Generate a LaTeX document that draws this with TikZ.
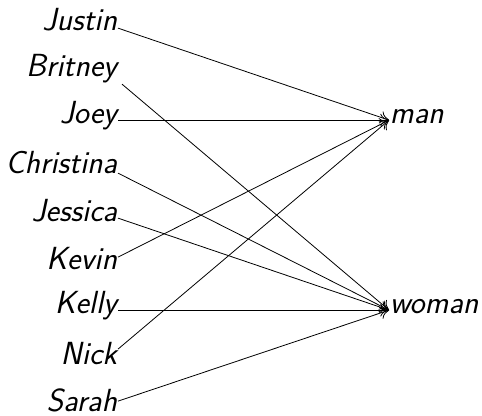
\documentclass[tikz,border=0pt]{standalone}
\usepackage{fontspec}
\usetikzlibrary{arrows.meta}
\tikzset{
  person/.style={anchor=base east, inner sep=0.5pt, font=\fontsize{24pt}{29pt}\selectfont\sffamily\itshape},
  target/.style={anchor=base west, inner sep=0.5pt, font=\fontsize{24pt}{29pt}\selectfont\sffamily\itshape},
  link/.style={line width=0.6pt, -{To[length=6.5pt,width=9.5pt]}}
}
\begin{document}
\begin{tikzpicture}[x=0.75pt, y=-0.75pt]
\useasboundingbox (0,0) rectangle (482,415);
\node[person] (justin) at (118,30) {Justin};
\node[person] (britney) at (118,76) {Britney};
\node[person] (joey) at (118,123) {Joey};
\node[person] (christina) at (118,173) {Christina};
\node[person] (jessica) at (118,221) {Jessica};
\node[person] (kevin) at (118,269) {Kevin};
\node[person] (kelly) at (118,313) {Kelly};
\node[person] (nick) at (118,364) {Nick};
\node[person] (sarah) at (118,411) {Sarah};
\node[target] (man) at (389,123) {man};
\node[target] (woman) at (389,313) {woman};
\draw[link] ([shift={(0,1)}]justin.mid east) -- (man.mid west);
\draw[link] ([shift={(4,11)}]britney.mid east) -- (woman.mid west);
\draw[link] (joey.mid east) -- (man.mid west);
\draw[link] ([shift={(0,3)}]christina.mid east) -- (woman.mid west);
\draw[link] (jessica.mid east) -- (woman.mid west);
\draw[link] ([shift={(0,-9)}]kevin.mid east) -- (man.mid west);
\draw[link] (kelly.mid east) -- (woman.mid west);
\draw[link] ([shift={(0,-12)}]nick.mid east) -- (man.mid west);
\draw[link] ([shift={(0,-7)}]sarah.mid east) -- (woman.mid west);
\end{tikzpicture}
\end{document}
